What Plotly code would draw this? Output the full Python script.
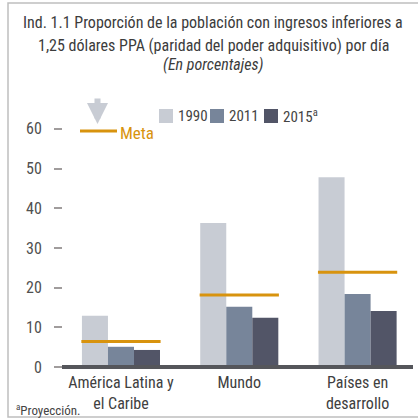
import plotly.graph_objects as go

categories = ["América Latina y<br>el Caribe", "Mundo", "Países en<br>desarrollo"]
years = ["1990", "2011", "2015"]
v1990 = [12.9, 36.3, 47.8]
v2011 = [5.1, 15.2, 18.4]
v2015 = [4.3, 12.4, 14.1]
meta = [6.45, 18.15, 23.9]
yticks = [0, 10, 20, 30, 40, 50, 60]

colors = ["#C8CCD4", "#77859A", "#525567"]
orange = "#D8930E"
FONT = "Roboto Condensed, DejaVu Sans Condensed, sans-serif"

W, H = 418, 420
L, R, T, B = 63, 412, 109, 371
def px(x): return (x - L) / (R - L)
def py(y): return (B - y) / (B - T)

xs = list(range(len(categories)))
fig = go.Figure()
for name, vals, c in zip(years, [v1990, v2011, v2015], colors):
    fig.add_trace(go.Bar(x=xs, y=vals, name=name, marker_color=c,
                         marker_line_width=0, showlegend=False))

mx, my = [], []
for i, m in zip(xs, meta):
    mx += [i - 0.335, i + 0.335, None]
    my += [m, m, None]
fig.add_trace(go.Scatter(x=mx, y=my, mode="lines", line=dict(color=orange, width=3),
                         name="Meta", showlegend=False, hoverinfo="skip"))

shapes = []
shapes.append(dict(type="rect", xref="paper", yref="paper", x0=px(8), x1=px(440),
                   y0=py(417), y1=py(3), line=dict(color="#BEBEBE", width=1.5), layer="below"))
shapes.append(dict(type="line", xref="paper", yref="y", x0=px(62), x1=px(413), y0=0, y1=0,
                   line=dict(color="#55565B", width=4)))
sw = [159, 210, 264]
for x0, c in zip(sw, colors):
    shapes.append(dict(type="rect", xref="paper", yref="paper", x0=px(x0), x1=px(x0 + 14),
                       y0=py(123), y1=py(109), fillcolor=c, line=dict(width=0)))
shapes.append(dict(type="line", xref="paper", yref="paper", x0=px(80), x1=px(117),
                   y0=py(131), y1=py(131), line=dict(color=orange, width=3)))

ann = []
title_lines = [
    ("Ind. 1.1 Proporción de la población con ingresos inferiores a", 22),
    ("1,25 dólares PPA (paridad del poder adquisitivo) por día", 45),
    ("<i>(En porcentajes)</i>", 65),
]
for t, y in title_lines:
    ann.append(dict(text=t, xref="paper", yref="paper", x=px(213), y=py(y), xanchor="center",
                    yanchor="middle", showarrow=False, font=dict(family=FONT, size=16, color="#3C3C3C")))
leg_labels = ["1990", "2011", "2015<sup>a</sup>"]
for x0, t in zip(sw, leg_labels):
    ann.append(dict(text=t, xref="paper", yref="paper", x=px(x0 + 17), y=py(116), xanchor="left",
                    yanchor="middle", showarrow=False, font=dict(family=FONT, size=15, color="#444444")))
ann.append(dict(text="Meta", xref="paper", yref="paper", x=px(118), y=py(133), xanchor="left",
                yanchor="middle", showarrow=False, font=dict(family=FONT, size=17, color=orange)))
ann.append(dict(text="", xref="paper", yref="paper", x=px(97.5), y=py(124), ax=0, ay=-27,
                showarrow=True, arrowhead=2, arrowsize=0.7, arrowwidth=6, arrowcolor="#C8CCD4"))
ann.append(dict(text="<sup>a</sup>Proyección.", xref="paper", yref="paper", x=px(14), y=py(410),
                xanchor="left", yanchor="middle", showarrow=False,
                font=dict(family=FONT, size=13, color="#444444")))

fig.update_layout(
    width=W, height=H, margin=dict(l=L, r=W - R, t=T, b=H - B),
    paper_bgcolor="white", plot_bgcolor="white",
    barmode="group", bargap=0.34, bargroupgap=0,
    font=dict(family=FONT, size=15, color="#444444"),
    shapes=shapes, annotations=ann,
    xaxis=dict(range=[-0.49, 2.46], tickvals=xs, ticktext=categories, showgrid=False, automargin=False,
               zeroline=False, showline=False, ticks="", tickfont=dict(size=16, color="#404040")),
    yaxis=dict(range=[-1, 65], tickvals=yticks, showgrid=False, zeroline=False, showline=False,
               automargin=False, ticks="outside", ticklen=8, tickwidth=2, tickcolor="#A09C9C",
               ticklabelstandoff=9, tickfont=dict(size=16, color="#505050")),
)
fig.write_html("out.html", config={"displayModeBar": False},
               post_script="document.body.style.margin='0';")
